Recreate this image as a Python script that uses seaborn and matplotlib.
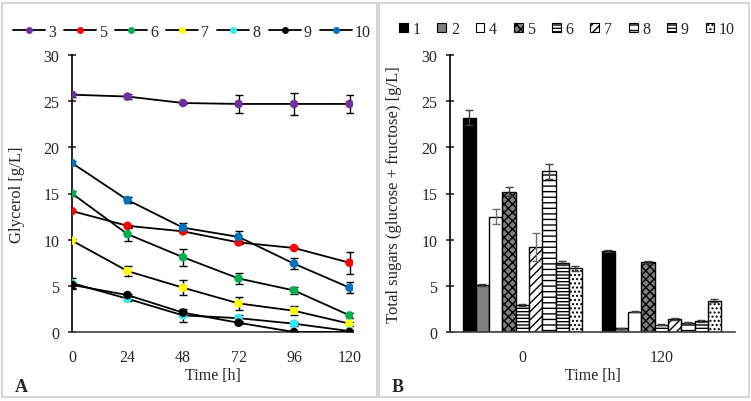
import matplotlib
matplotlib.use("Agg")
import matplotlib.pyplot as plt
import seaborn as sns
import numpy as np
import pandas as pd
from matplotlib.lines import Line2D
from matplotlib.patches import Patch, Rectangle

# ---------------- data ----------------
time_h = [0, 24, 48, 72, 96, 120]
glyc_series = ["3", "5", "6", "7", "8", "9", "10"]
glyc_3 = [25.7, 25.5, 24.8, 24.7, 24.7, 24.7]
glyc_5 = [13.1, 11.5, 10.9, 9.7, 9.1, 7.5]
glyc_6 = [15.0, 10.6, 8.1, 5.8, 4.5, 1.8]
glyc_7 = [9.9, 6.6, 4.8, 3.1, 2.3, 0.9]
glyc_8 = [5.3, 3.6, 1.8, 1.5, 0.9, 0.1]
glyc_9 = [5.1, 4.0, 2.1, 1.0, 0.0, 0.0]
glyc_10 = [18.3, 14.3, 11.3, 10.3, 7.4, 4.8]
err_3 = [0.2, 0.3, 0.1, 1.0, 1.2, 1.0]
err_5 = [0.1, 0.1, 0.1, 0.2, 0.1, 1.2]
err_6 = [0.3, 0.7, 0.9, 0.6, 0.4, 0.3]
err_7 = [0.2, 0.5, 0.8, 0.7, 0.5, 0.2]
err_8 = [0.6, 0.2, 0.7, 0.3, 0.2, 0.1]
err_9 = [0.3, 0.1, 0.2, 0.1, 0.0, 0.0]
err_10 = [0.2, 0.3, 0.5, 0.6, 0.6, 0.6]
glyc_colors = ["#7030A0", "#FF0000", "#00B050", "#FFFF00", "#33E6F2", "#000000", "#0070C0"]

sugar_times = ["0", "120"]
sugar_series = ["1", "2", "4", "5", "6", "7", "8", "9", "10"]
sugar_t0 = [23.2, 5.1, 12.5, 15.2, 2.9, 9.2, 17.4, 7.5, 6.9]
sugar_t120 = [8.8, 0.4, 2.2, 7.6, 0.8, 1.4, 1.0, 1.2, 3.4]
sugar_err_t0 = [0.8, 0.1, 0.8, 0.5, 0.1, 1.5, 0.8, 0.2, 0.3]
sugar_err_t120 = [0.1, 0.05, 0.05, 0.1, 0.05, 0.1, 0.05, 0.1, 0.2]
bar_faces = ["#000000", "#7F7F7F", "white", "#808080", "white", "white", "white", "white", "white"]
bar_hatches = [None, None, None, "xxxx", "-----", "////", "---", "-----", "...."]

# ---------------- figure ----------------
sns.set_theme(style="white")
plt.rcParams["font.family"] = ["Liberation Serif", "DejaVu Serif"]
plt.rcParams["hatch.linewidth"] = 1.0

fig = plt.figure(figsize=(7.51, 4.02), dpi=100)
W, H = 751, 402

def fx(px):
    return px / W

def fy(py):
    return 1 - py / H

# panel frames
for x0, x1 in [(2, 377), (379, 749)]:
    fig.patches.append(Rectangle((fx(x0), fy(398)), fx(x1) - fx(x0), fy(4) - fy(398),
                                 transform=fig.transFigure, fill=False,
                                 edgecolor="#D0D0D0", linewidth=1.2))

# ---------- panel A ----------
axA = fig.add_axes([fx(72), fy(333), fx(353) - fx(72), fy(56) - fy(333)])
glyc_vals = [glyc_3, glyc_5, glyc_6, glyc_7, glyc_8, glyc_9, glyc_10]
glyc_errs = [err_3, err_5, err_6, err_7, err_8, err_9, err_10]
rows = []
for s, vals, errs in zip(glyc_series, glyc_vals, glyc_errs):
    for t, v, e in zip(time_h, vals, errs):
        rows.append({"series": s, "time": t, "value": v, "err": e})
dfA = pd.DataFrame(rows)

for s, c in zip(glyc_series, glyc_colors):
    d = dfA[dfA.series == s]
    axA.errorbar(d.time, d.value, yerr=d.err, fmt="none", ecolor="black",
                 elinewidth=1.0, capsize=3, capthick=1.0, zorder=2)
    sns.lineplot(data=d, x="time", y="value", color="black", linewidth=1.3,
                 ax=axA, zorder=3, legend=False)
sns.scatterplot(data=dfA, x="time", y="value", hue="series", palette=glyc_colors,
                hue_order=glyc_series, s=38, edgecolor="none", ax=axA, zorder=4,
                legend=False)

axA.set_xlim(0, 121.5)
axA.set_ylim(0, 30)
axA.set_xticks(time_h)
axA.set_yticks([0, 5, 10, 15, 20, 25, 30])
axA.set_xlabel("Time [h]", fontsize=11.5, labelpad=2)
axA.set_ylabel("Glycerol [g/L]", fontsize=12, labelpad=13)
for sp in ["top", "right"]:
    axA.spines[sp].set_visible(False)
for sp in ["left", "bottom"]:
    axA.spines[sp].set_color("black")
    axA.spines[sp].set_linewidth(1.2)
axA.spines["bottom"].set_color("#404040")
axA.tick_params(axis="y", direction="inout", length=6, width=1.2, labelsize=11.5, pad=6, left=True)
axA.tick_params(axis="x", length=0, labelsize=11.5, pad=12)

handlesA = [Line2D([0], [0], color="black", lw=1.3, marker="o", markersize=5,
                   markerfacecolor=c, markeredgecolor="none") for c in glyc_colors]
fig.legend(handlesA, glyc_series, loc="center", bbox_to_anchor=(fx(192), fy(33)),
           ncol=7, frameon=False, fontsize=11.5, handlelength=2.0, handletextpad=0.2,
           columnspacing=0.5)
fig.text(fx(15), fy(388), "A", fontsize=13, fontweight="bold", va="center")

# ---------- panel B ----------
axB = fig.add_axes([fx(450), fy(333), fx(735) - fx(450), fy(56) - fy(333)])
rowsB = []
for t, vals, errs in [("0", sugar_t0, sugar_err_t0), ("120", sugar_t120, sugar_err_t120)]:
    for s, v, e in zip(sugar_series, vals, errs):
        rowsB.append({"time": t, "series": s, "value": v, "err": e})
dfB = pd.DataFrame(rowsB)
sns.barplot(data=dfB, x="time", y="value", hue="series", hue_order=sugar_series,
            order=sugar_times, palette=["white"] * 9, edgecolor="black", linewidth=1.0,
            width=0.86, gap=0.0, errorbar=None, ax=axB, legend=False, zorder=2)

bar_containers = list(axB.containers)
for i, cont in enumerate(bar_containers):
    for j, bar in enumerate(cont.patches):
        bar.set_facecolor(bar_faces[i])
        bar.set_edgecolor("black")
        if bar_hatches[i]:
            bar.set_hatch(bar_hatches[i])
        e = dfB[(dfB.series == sugar_series[i]) & (dfB.time == sugar_times[j])]["err"].iloc[0]
        ecol = "#707070" if sugar_times[j] == "0" and i in (2, 5) else "#404040"
        axB.errorbar(bar.get_x() + bar.get_width() / 2, bar.get_height(), yerr=e,
                     fmt="none", ecolor=ecol, elinewidth=1.0, capsize=3, capthick=1.0,
                     zorder=3)

axB.set_ylim(0, 30)
axB.set_xlim(-0.52, 1.53)
axB.set_yticks([0, 5, 10, 15, 20, 25, 30])
axB.set_xlabel("Time [h]", fontsize=11.5, labelpad=2)
axB.set_ylabel("Total sugars (glucose + fructose) [g/L]", fontsize=12, labelpad=14)
for sp in ["top", "right"]:
    axB.spines[sp].set_visible(False)
axB.spines["left"].set_color("black")
axB.spines["left"].set_linewidth(1.2)
axB.spines["bottom"].set_color("#404040")
axB.spines["bottom"].set_linewidth(1.2)
axB.tick_params(axis="y", direction="inout", length=6, width=1.2, labelsize=11.5, pad=6, left=True)
axB.tick_params(axis="x", length=0, labelsize=11.5, pad=12)

handlesB = [Patch(facecolor=bar_faces[i], edgecolor="black", hatch=bar_hatches[i], linewidth=0.8)
            for i in range(len(sugar_series))]
fig.legend(handlesB, sugar_series, loc="center", bbox_to_anchor=(fx(567), fy(30)),
           ncol=9, frameon=False, fontsize=11.5, handlelength=0.55, handleheight=0.55,
           handletextpad=0.3, columnspacing=1.05)
fig.text(fx(392), fy(388), "B", fontsize=13, fontweight="bold", va="center")

fig.savefig("out.png", dpi=100)
